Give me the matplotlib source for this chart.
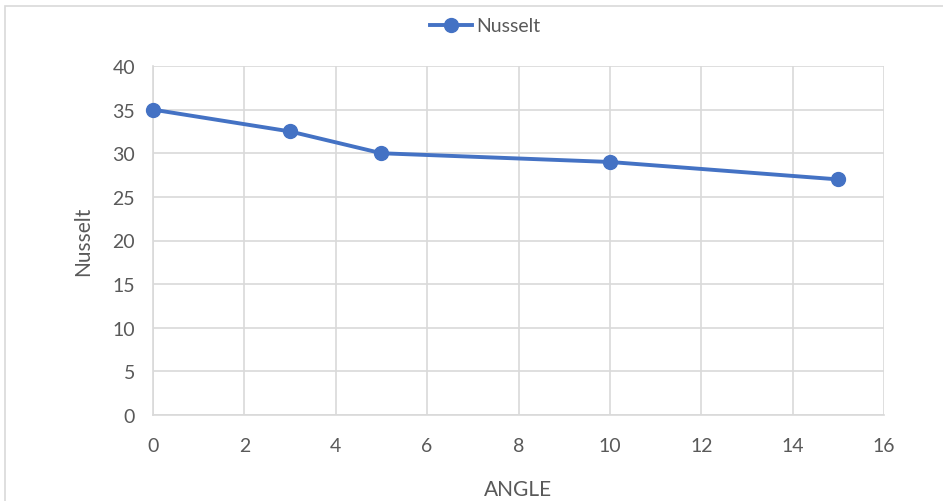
import matplotlib
matplotlib.use("Agg")
import matplotlib.pyplot as plt
from matplotlib.patches import Rectangle

angle = [0, 3, 5, 10, 15]
nusselt = [35, 32.5, 30, 29, 27]
series_name = "Nusselt"
x_label = "ANGLE"
y_label = "Nusselt"

plt.rcParams['font.family'] = ['Lato', 'DejaVu Sans']
W, H = 943, 502
fig = plt.figure(figsize=(W/100, H/100), dpi=100)
fig.patches.append(Rectangle((5/W, -0.1), 1.2, 1 - 7/H + 0.1, transform=fig.transFigure,
                             fill=False, edgecolor='#D9D9D9', linewidth=1.2))

left, right, top, bottom = 153, 884, 67, 416
ax = fig.add_axes([left/W, 1 - bottom/H, (right-left)/W, (bottom-top)/H])
ax.plot(angle, nusselt, color='#4472C4', linewidth=2.8, marker='o', markersize=10,
        label=series_name, zorder=3, clip_on=False)
ax.set_xlim(0, 16)
ax.set_ylim(0, 40)
ax.set_xticks(range(0, 17, 2))
ax.set_yticks(range(0, 41, 5))
ax.grid(True, color='#D9D9D9', linewidth=1.2)
ax.set_axisbelow(True)
for s in ['top', 'right']:
    ax.spines[s].set_visible(False)
for s in ['left', 'bottom']:
    ax.spines[s].set_color('#D9D9D9')
    ax.spines[s].set_linewidth(1.2)
ax.tick_params(length=0, labelsize=14, colors='#595959')
ax.tick_params(axis='x', pad=16)
ax.tick_params(axis='y', pad=13)
ax.set_xlabel(x_label, fontsize=15, color='#595959', labelpad=18)
ax.set_ylabel(y_label, fontsize=15, color='#595959', labelpad=14)
leg = fig.legend(loc='center', bbox_to_anchor=(485/W, 1 - 27/H), frameon=False,
                 fontsize=14, handlelength=2.2, handletextpad=0.2, labelcolor='#595959')
fig.savefig('out.png', dpi=100)
